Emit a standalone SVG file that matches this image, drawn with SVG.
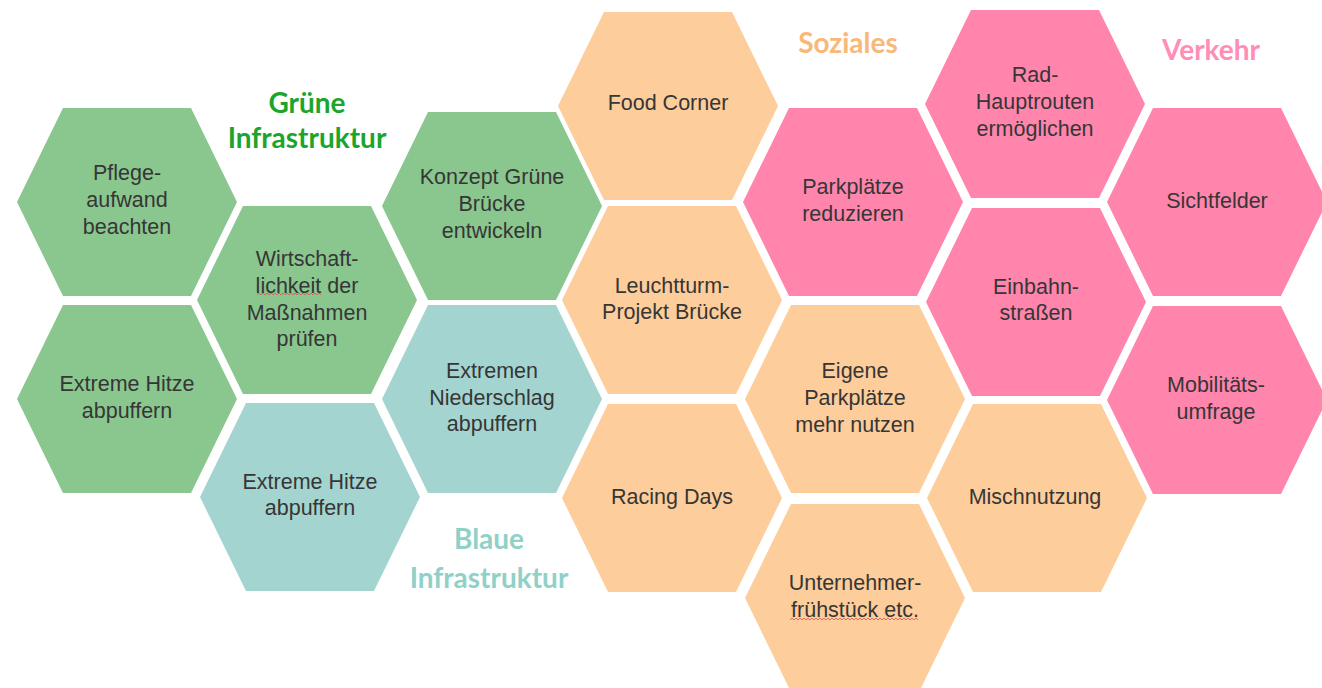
<svg xmlns="http://www.w3.org/2000/svg" xmlns:xlink="http://www.w3.org/1999/xlink" width="1322" height="688" viewBox="0 0 1322 688">
<style>
.g{fill:#89C78E}
.b{fill:#A4D4CF}
.o{fill:#FDCD9B}
.p{fill:#FF85AD}
.t{font-family:"Liberation Sans",Arial,sans-serif;font-size:21.5px;fill:#363636;text-anchor:middle}
.h{font-family:Lato,"Open Sans",sans-serif;font-weight:bold;font-size:28px;text-anchor:middle}
.sq{fill:none;stroke:#E2504F;stroke-width:1;opacity:0.8}
</style>
<defs>
<path id="hex" d="M-110 0 L-64 -94 L64 -94 L110 0 L64 94 L-64 94 Z"/>
</defs>
<rect width="1322" height="688" fill="#fff"/>

<g id="title-gruene"><text class="h" fill="#1CA52C" x="307" y="113">Grüne</text><text class="h" fill="#1CA52C" x="307" y="148">Infrastruktur</text></g>
<g id="title-blaue"><text class="h" fill="#8FD1C7" x="489" y="549">Blaue</text><text class="h" fill="#8FD1C7" x="489" y="588">Infrastruktur</text></g>
<g id="title-soziales"><text class="h" fill="#F9B878" x="848" y="53">Soziales</text></g>
<g id="title-verkehr"><text class="h" fill="#FF8DB5" x="1211" y="60">Verkehr</text></g>

<g id="n-pflege"><use xlink:href="#hex" href="#hex" class="g" x="127" y="202"/><text class="t" x="127" y="180">Pflege-</text><text class="t" x="127" y="207">aufwand</text><text class="t" x="127" y="234">beachten</text></g>
<g id="n-hitze-gruen"><use xlink:href="#hex" href="#hex" class="g" x="127" y="399"/><text class="t" x="127" y="391">Extreme Hitze</text><text class="t" x="127" y="418">abpuffern</text></g>
<g id="n-wirtschaft"><use xlink:href="#hex" href="#hex" class="g" x="307" y="300"/><text class="t" x="307" y="266">Wirtschaft-</text><text class="t" x="307" y="293">lichkeit der</text><text class="t" x="307" y="320">Maßnahmen</text><text class="t" x="307" y="346">prüfen</text>
<path class="sq" d="M257 295 l2 -2 2 2 2 -2 2 2 2 -2 2 2 2 -2 2 2 2 -2 2 2 2 -2 2 2 2 -2 2 2 2 -2 2 2 2 -2 2 2 2 -2 2 2 2 -2 2 2 2 -2 2 2 2 -2 2 2 2 -2 2 2 2 -2 2 2 2 -2 2 2"/></g>
<g id="n-hitze-blau"><use xlink:href="#hex" href="#hex" class="b" x="310" y="497"/><text class="t" x="310" y="489">Extreme Hitze</text><text class="t" x="310" y="515">abpuffern</text></g>
<g id="n-konzept"><use xlink:href="#hex" href="#hex" class="g" x="492" y="206"/><text class="t" x="492" y="184">Konzept Grüne</text><text class="t" x="492" y="211">Brücke</text><text class="t" x="492" y="238">entwickeln</text></g>
<g id="n-niederschlag"><use xlink:href="#hex" href="#hex" class="b" x="492" y="399"/><text class="t" x="492" y="378">Extremen</text><text class="t" x="492" y="405">Niederschlag</text><text class="t" x="492" y="431">abpuffern</text></g>
<g id="n-food"><use xlink:href="#hex" href="#hex" class="o" x="668" y="106"/><text class="t" x="668" y="110">Food Corner</text></g>
<g id="n-leuchtturm"><use xlink:href="#hex" href="#hex" class="o" x="672" y="300"/><text class="t" x="672" y="292.5">Leuchtturm-</text><text class="t" x="672" y="319">Projekt Brücke</text></g>
<g id="n-racing"><use xlink:href="#hex" href="#hex" class="o" x="672" y="498"/><text class="t" x="672" y="504">Racing Days</text></g>
<g id="n-parkplaetze"><use xlink:href="#hex" href="#hex" class="p" x="853" y="202"/><text class="t" x="853" y="193.5">Parkplätze</text><text class="t" x="853" y="220.5">reduzieren</text></g>
<g id="n-eigene"><use xlink:href="#hex" href="#hex" class="o" x="855" y="399"/><text class="t" x="855" y="378">Eigene</text><text class="t" x="855" y="405">Parkplätze</text><text class="t" x="855" y="431.5">mehr nutzen</text></g>
<g id="n-unternehmer"><use xlink:href="#hex" href="#hex" class="o" x="855" y="598"/><text class="t" x="855" y="590">Unternehmer-</text><text class="t" x="855" y="617">frühstück etc.</text>
<path class="sq" d="M790 620 l2 -2 2 2 2 -2 2 2 2 -2 2 2 2 -2 2 2 2 -2 2 2 2 -2 2 2 2 -2 2 2 2 -2 2 2 2 -2 2 2 2 -2 2 2 2 -2 2 2 2 -2 2 2 2 -2 2 2 2 -2 2 2 2 -2 2 2 2 -2 2 2 2 -2 2 2 2 -2 2 2 2 -2 2 2 2 -2 2 2 2 -2 2 2 2 -2 2 2 2 -2 2 2 2 -2 2 2 2 -2 2 2 2 -2 2 2 2 -2 2 2 2 -2 2 2 2 -2 2 2 2 -2 2 2 2 -2 2 2 2 -2 2 2"/></g>
<g id="n-rad"><use xlink:href="#hex" href="#hex" class="p" x="1035" y="104"/><text class="t" x="1035" y="82">Rad-</text><text class="t" x="1035" y="109">Hauptrouten</text><text class="t" x="1035" y="136">ermöglichen</text></g>
<g id="n-einbahn"><use xlink:href="#hex" href="#hex" class="p" x="1036" y="302"/><text class="t" x="1036" y="294">Einbahn-</text><text class="t" x="1036" y="320">straßen</text></g>
<g id="n-misch"><use xlink:href="#hex" href="#hex" class="o" x="1037" y="498"/><text class="t" x="1035" y="504">Mischnutzung</text></g>
<g id="n-sicht"><use xlink:href="#hex" href="#hex" class="p" x="1217" y="202"/><text class="t" x="1217" y="208">Sichtfelder</text></g>
<g id="n-mobil"><use xlink:href="#hex" href="#hex" class="p" x="1217" y="400"/><text class="t" x="1216" y="392">Mobilitäts-</text><text class="t" x="1216" y="418.5">umfrage</text></g>
</svg>
